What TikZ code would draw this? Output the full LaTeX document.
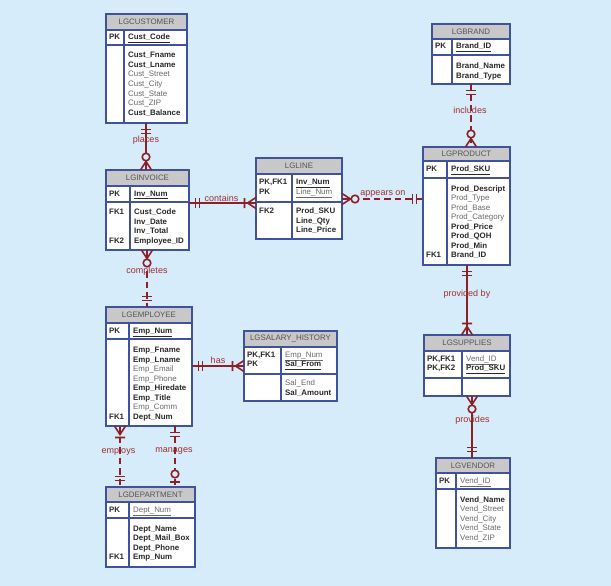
\documentclass[tikz,border=0pt]{standalone}
\usepackage{fontspec}
\setmainfont{Liberation Sans}
\usetikzlibrary{fit}
\definecolor{bg}{RGB}{214,236,250}
\definecolor{bdr}{RGB}{62,82,160}
\definecolor{hdr}{RGB}{200,200,200}
\definecolor{relc}{RGB}{140,32,36}
\definecolor{lblc}{RGB}{160,45,45}
\definecolor{txtb}{RGB}{40,40,40}
\definecolor{txtr}{RGB}{105,105,105}
\definecolor{hdrt}{RGB}{85,85,85}
\newcommand\B[1]{\textbf{\color{txtb}#1}}
\newcommand\R[1]{{\color{txtr}#1}}
\newcommand\U[1]{\underline{#1}}
\tikzset{
 rel/.style={draw=relc, line width=1.6pt},
 reldash/.style={rel, dash pattern=on 6.5pt off 4pt},
 bord/.style={draw=bdr, line width=1.2pt},
 cell/.style={anchor=west, inner sep=0pt, text height=5.8pt, text depth=1.8pt, font=\fontsize{7.9}{9.5}\selectfont},
 htxt/.style={inner sep=0pt, font=\fontsize{7.9}{9.5}\selectfont, text=hdrt},
 lbl/.style={inner sep=0pt, font=\fontsize{9}{10}\selectfont, text=lblc},
}
\newcommand\mkent[9]{%
 \fill[white] (#2,#3) rectangle (#4,#7);
 \fill[hdr] (#2,#3) rectangle (#4,#5);
 \draw[bord] (#2,#5) -- (#4,#5) (#2,#6) -- (#4,#6) (#8,#5) -- (#8,#7);
 \draw[bord] (#2,#3) rectangle (#4,#7);
 \node[inner sep=0pt, outer sep=0pt, fit={(#2,#3) (#4,#7)}] (#1) {};
 \node[htxt] (#1-title) at ({(#2+#4)/2},{(#3+#5)/2}) {#9};
}
\newcommand\col[4]{\foreach \t [count=\i] in {#4} \node[cell] (#1-\i) at (#2,{#3+(\i-1)*9.5}) {\t};}
\newcommand\eOne[2]{\begin{scope}[shift={(#1)},rotate=#2]\draw[rel] (6.5,-5)--(6.5,5) (10.5,-5)--(10.5,5);\end{scope}}
\newcommand\eZM[2]{\begin{scope}[shift={(#1)},rotate=#2]\draw[rel] (0,-5.5)--(8.5,0)--(0,5.5); \draw[rel,fill=bg] (13,0) circle[radius=3.8pt];\end{scope}}
\newcommand\eOM[2]{\begin{scope}[shift={(#1)},rotate=#2]\draw[rel] (0,-5.5)--(8.5,0)--(0,5.5) (11.5,-5)--(11.5,5);\end{scope}}
\newcommand\eZO[2]{\begin{scope}[shift={(#1)},rotate=#2]\draw[rel] (5,-5)--(5,5); \draw[rel,fill=bg] (13,0) circle[radius=3.8pt];\end{scope}}
\begin{document}
\begin{tikzpicture}[x=1pt,y=-1pt]
\fill[bg] (0,0) rectangle (611,586);
\useasboundingbox (0,0) rectangle (611,586);

% LGCUSTOMER
\mkent{cust}{106}{14}{187}{30}{45}{123}{124}{LGCUSTOMER}
\node[cell] (cust-pk) at (109,37.5) {\B{PK}};
\node[cell] (cust-pa) at (128,37.5) {\B{\U{Cust\_Code}}};
\col{cust-a}{128}{56}{\B{Cust\_Fname},\B{Cust\_Lname},\R{Cust\_Street},\R{Cust\_City},\R{Cust\_State},\R{Cust\_ZIP},\B{Cust\_Balance}}

% LGINVOICE
\mkent{inv}{106}{170}{189}{186}{202}{250}{130}{LGINVOICE}
\node[cell] (inv-pk) at (109,194) {\B{PK}};
\node[cell] (inv-pa) at (134,194) {\B{\U{Inv\_Num}}};
\col{inv-k}{109}{212.5}{\B{FK1},{},{},\B{FK2}}
\col{inv-a}{134}{212.5}{\B{Cust\_Code},\B{Inv\_Date},\B{Inv\_Total},\B{Employee\_ID}}

% LGLINE
\mkent{line}{256}{158}{342}{174}{202}{239}{292}{LGLINE}
\col{line-pk}{259}{182.7}{{\B{PK,FK1}},\B{PK}}
\col{line-pa}{296}{182.7}{\B{\U{Inv\_Num}},\R{\U{Line\_Num}}}
\col{line-k}{259}{211.5}{\B{FK2}}
\col{line-a}{296}{211.5}{\B{Prod\_SKU},\B{Line\_Qty},\B{Line\_Price}}

% LGBRAND
\mkent{brand}{432}{24}{510}{39}{55}{84}{452}{LGBRAND}
\node[cell] (brand-pk) at (435,47) {\B{PK}};
\node[cell] (brand-pa) at (456,47) {\B{\U{Brand\_ID}}};
\col{brand-a}{456}{66.5}{\B{Brand\_Name},\B{Brand\_Type}}

% LGPRODUCT
\mkent{prod}{423}{147}{510}{161}{178}{265}{447}{LGPRODUCT}
\node[cell] (prod-pk) at (426,169.5) {\B{PK}};
\node[cell] (prod-pa) at (451,169.5) {\B{\U{Prod\_SKU}}};
\col{prod-k}{426}{189}{{},{},{},{},{},{},{},\B{FK1}}
\col{prod-a}{451}{189}{\B{Prod\_Descript},\R{Prod\_Type},\R{Prod\_Base},\R{Prod\_Category},\B{Prod\_Price},\B{Prod\_QOH},\B{Prod\_Min},\B{Brand\_ID}}

% LGEMPLOYEE
\mkent{emp}{106}{307}{192}{323}{339}{426}{129}{LGEMPLOYEE}
\node[cell] (emp-pk) at (109,331) {\B{PK}};
\node[cell] (emp-pa) at (133,331) {\B{\U{Emp\_Num}}};
\col{emp-k}{109}{350.5}{{},{},{},{},{},{},{},\B{FK1}}
\col{emp-a}{133}{350.5}{\B{Emp\_Fname},\B{Emp\_Lname},\R{Emp\_Email},\R{Emp\_Phone},\B{Emp\_Hiredate},\B{Emp\_Title},\R{Emp\_Comm},\B{Dept\_Num}}

% LGSALARY_HISTORY
\mkent{sal}{244}{331}{337}{347}{374}{401}{281}{LGSALARY\_HISTORY}
\col{sal-pk}{247}{355}{{\B{PK,FK1}},\B{PK}}
\col{sal-pa}{285}{355}{\R{\U{Emp\_Num}},\B{\U{Sal\_From}}}
\col{sal-a}{285}{383.5}{\R{Sal\_End},\B{Sal\_Amount}}

% LGDEPARTMENT
\mkent{dept}{106}{487}{195}{502}{518}{567}{129}{LGDEPARTMENT}
\node[cell] (dept-pk) at (109,510) {\B{PK}};
\node[cell] (dept-pa) at (133,510) {\R{\U{Dept\_Num}}};
\col{dept-k}{109}{529}{{},{},{},\B{FK1}}
\col{dept-a}{133}{529}{\B{Dept\_Name},\B{Dept\_Mail\_Box},\B{Dept\_Phone},\B{Emp\_Num}}

% LGSUPPLIES
\mkent{sup}{424}{335}{510}{351}{378}{396}{462}{LGSUPPLIES}
\col{sup-pk}{427}{359}{{\B{PK,FK1}},{\B{PK,FK2}}}
\col{sup-pa}{466}{359}{\R{\U{Vend\_ID}},\B{\U{Prod\_SKU}}}

% LGVENDOR
\mkent{vend}{436}{458}{510}{473}{489}{548}{456}{LGVENDOR}
\node[cell] (vend-pk) at (439,481) {\B{PK}};
\node[cell] (vend-pa) at (460,481) {\R{\U{Vend\_ID}}};
\col{vend-a}{460}{500}{\B{Vend\_Name},\R{Vend\_Street},\R{Vend\_City},\R{Vend\_State},\R{Vend\_ZIP}}

% connector end points
\coordinate (pl1) at ([xshift=40pt]cust.south west);
\coordinate (pl2) at ([xshift=40pt]inv.north west);
\coordinate (co1) at ([yshift=-33pt]inv.north east);
\coordinate (co2) at ([yshift=-45pt]line.north west);
\coordinate (ap1) at ([yshift=-41pt]line.north east);
\coordinate (ap2) at ([yshift=-52pt]prod.north west);
\coordinate (in1) at ([xshift=39pt]brand.south west);
\coordinate (in2) at ([xshift=48pt]prod.north west);
\coordinate (cm1) at ([xshift=41pt]inv.south west);
\coordinate (cm2) at ([xshift=41pt]emp.north west);
\coordinate (ha1) at ([yshift=-59pt]emp.north east);
\coordinate (ha2) at ([yshift=-35pt]sal.north west);
\coordinate (em1) at ([xshift=14pt]emp.south west);
\coordinate (em2) at ([xshift=14pt]dept.north west);
\coordinate (ma1) at ([xshift=69pt]emp.south west);
\coordinate (ma2) at ([xshift=69pt]dept.north west);
\coordinate (pb1) at ([xshift=44pt]prod.south west);
\coordinate (pb2) at ([xshift=43pt]sup.north west);
\coordinate (pv1) at ([xshift=48pt]sup.south west);
\coordinate (pv2) at ([xshift=36pt]vend.north west);

% connectors
\draw[rel] (pl1) -- (pl2);
\draw[rel] (co1) -- (co2);
\draw[reldash] (ap1) -- (ap2);
\draw[reldash] (in1) -- (in2);
\draw[reldash] (cm1) -- (cm2);
\draw[rel] (ha1) -- (ha2);
\draw[reldash] (em1) -- (em2);
\draw[reldash] (ma1) -- (ma2);
\draw[rel] (pb1) -- (pb2);
\draw[rel] (pv1) -- (pv2);

% ends
\eOne{pl1}{-90} \eZM{pl2}{90}
\eOne{co1}{0} \eOM{co2}{180}
\eZM{ap1}{0} \eOne{ap2}{180}
\eOne{in1}{-90} \eZM{in2}{90}
\eZM{cm1}{-90} \eOne{cm2}{90}
\eOne{ha1}{0} \eOM{ha2}{180}
\eOM{em1}{-90} \eOne{em2}{90}
\eOne{ma1}{-90} \eZO{ma2}{90}
\eOne{pb1}{-90} \eOM{pb2}{90}
\eZM{pv1}{-90} \eOne{pv2}{90}

% labels
\node[lbl] (l-places) at (146,140.5) {places};
\node[lbl] (l-contains) at (221.5,198.5) {contains};
\node[lbl] (l-appears) at (383,194.5) {appears on};
\node[lbl] (l-includes) at (470,110) {includes};
\node[lbl] (l-completes) at (147,271.5) {completes};
\node[lbl] (l-has) at (218,360) {has};
\node[lbl] (l-employs) at (118.5,451.5) {employs};
\node[lbl] (l-manages) at (174,451) {manages};
\node[lbl] (l-provby) at (467,294) {provided by};
\node[lbl] (l-provides) at (472.5,420.5) {provides};
\end{tikzpicture}
\end{document}
